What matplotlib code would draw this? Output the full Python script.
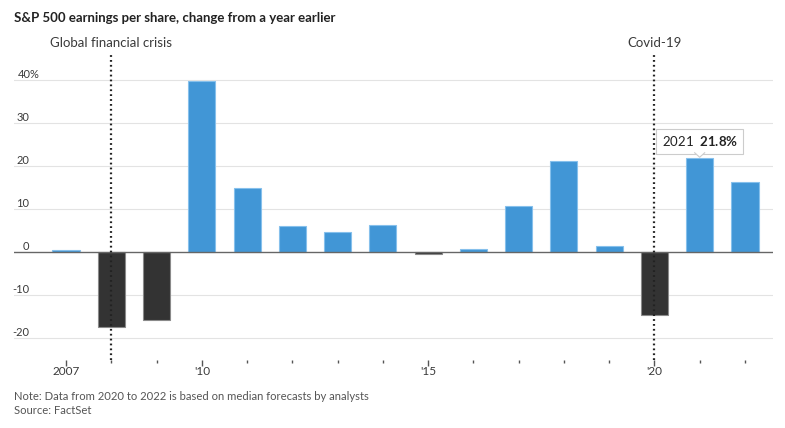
import numpy as np
import matplotlib.pyplot as plt
from matplotlib.transforms import IdentityTransform

plt.rcParams['font.family'] = ['Lato', 'DejaVu Sans']
plt.rcParams['mathtext.fontset'] = 'custom'
plt.rcParams['mathtext.rm'] = 'Lato'
plt.rcParams['mathtext.bf'] = 'Lato:bold'

years = [2007, 2008, 2009, 2010, 2011, 2012, 2013, 2014, 2015,
         2016, 2017, 2018, 2019, 2020, 2021, 2022]
eps_change = [0.4, -17.4, -15.8, 39.8, 14.9, 6.0, 4.7, 6.3, -0.5,
              0.8, 10.7, 21.2, 1.5, -14.7, 21.8, 16.3]
ytick_vals = [-20, -10, 0, 10, 20, 30, 40]
xtick_labels = {2007: "2007", 2010: "'10", 2015: "'15", 2020: "'20"}
events = {2008: "Global financial crisis", 2020: "Covid-19"}

blue = "#4196d6"
dark = "#333333"
text_col = "#3a3a3a"

fig = plt.figure(figsize=(7.85, 4.28), dpi=100)
ax = fig.add_axes([14 / 785, 1 - 359.5 / 428, (773 - 14) / 785, 301 / 428])

colors = [blue if v >= 0 else dark for v in eps_change]
edges = ["#86c0ec" if v >= 0 else "#8a8a8a" for v in eps_change]
ax.bar(years, eps_change, width=0.6, color=colors, edgecolor=edges,
       linewidth=0.8, zorder=3)

ax.set_xlim(2005.85, 2022.62)
ax.set_ylim(-25, 45)

# gridlines and y labels sitting above them
ytrans = ax.get_yaxis_transform()
for v in ytick_vals:
    if v == 0:
        ax.axhline(0, color="#666666", lw=1.0, zorder=4)
    else:
        ax.axhline(v, color="#e3e3e3", lw=0.8, zorder=1)
    if v == 40:
        ax.text(4 / 759, v + 1.2, "40%", transform=ytrans,
                ha="left", va="center", fontsize=8, color=text_col)
    else:
        ax.text(15.5 / 759, v + 1.2, str(v), transform=ytrans,
                ha="right", va="center", fontsize=8, color=text_col)

# x ticks
ax.set_xticks(years)
ax.set_xticklabels([xtick_labels.get(y, "") for y in years])
ax.tick_params(axis="x", length=2, width=1, color="#555555", pad=3,
               labelsize=8.5, labelcolor=text_col)
for t in ax.xaxis.get_major_ticks():
    if t.get_loc() in xtick_labels:
        t.tick1line.set_markersize(4)
ax.tick_params(axis="y", left=False, labelleft=False)
for s in ax.spines.values():
    s.set_visible(False)

# event lines
for yr, lab in events.items():
    ax.axvline(yr, ymin=0, ymax=1.01, color="#222222", lw=1.6,
               linestyle=(0, (0.8, 1.4)), zorder=5, clip_on=False)
    ax.text(yr, 1.03, lab, transform=ax.get_xaxis_transform(),
            ha="center", va="bottom", fontsize=9.5, color=text_col)

# tooltip for 2021
i = years.index(2021)
ax.annotate("2021  $\\bf{" + f"{eps_change[i]}" + "\\%}$",
            xy=(2021, eps_change[i]), xytext=(0, 17),
            textcoords="offset pixels", ha="center", va="center",
            fontsize=9.5, color="#222222", zorder=7,
            bbox=dict(boxstyle="square,pad=0.4", fc="white", ec="#cccccc", lw=0.8))
bx, by = ax.transData.transform((2021, eps_change[i]))
notch_x = [bx - 5, bx, bx + 5]
notch_y = [by + 5.5, by + 1, by + 5.5]
fig.patches.append(plt.Polygon(list(zip(notch_x, notch_y)), closed=True,
                               fc="white", ec="none", transform=IdentityTransform(),
                               zorder=8))
fig.lines.append(plt.Line2D(notch_x, notch_y, color="#cccccc", lw=0.8,
                            transform=IdentityTransform(), zorder=9))

fig.text(14 / 785, 1 - 18 / 428, "S&P 500 earnings per share, change from a year earlier",
         fontsize=9.5, fontweight="bold", color="#222222", va="center")
fig.text(14 / 785, 1 - 396 / 428,
         "Note: Data from 2020 to 2022 is based on median forecasts by analysts",
         fontsize=8.1, color="#555555", va="center")
fig.text(14 / 785, 1 - 411 / 428, "Source: FactSet", fontsize=8.1,
         color="#555555", va="center")

fig.savefig("out.png", dpi=100)
